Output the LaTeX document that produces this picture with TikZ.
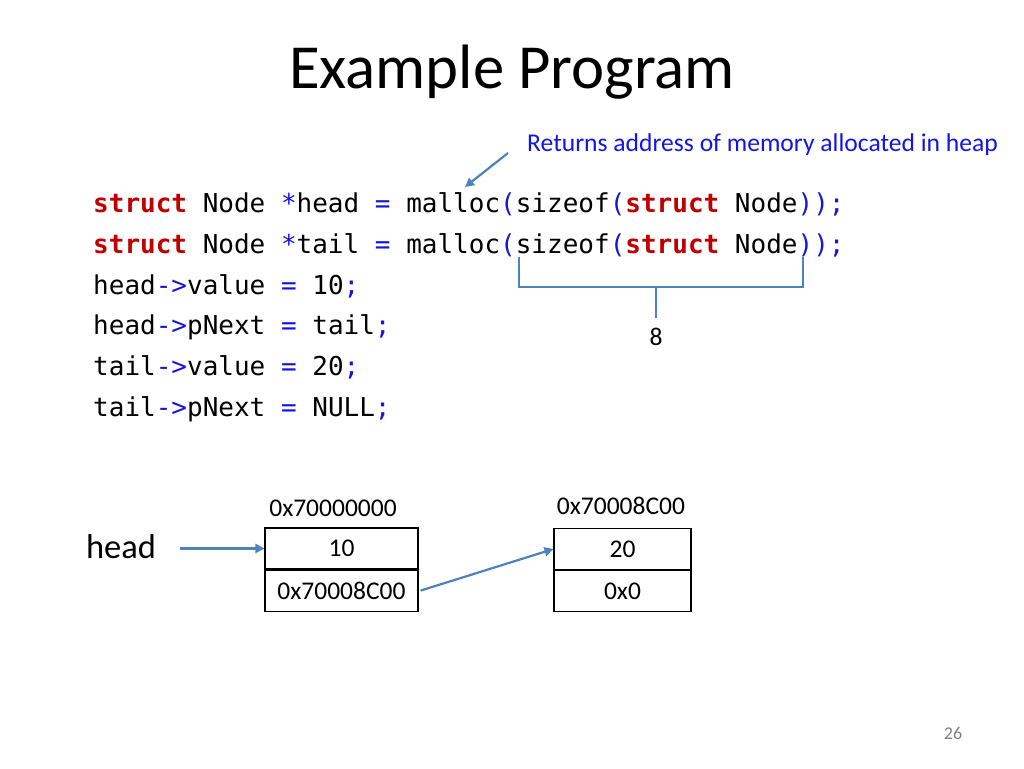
\documentclass[tikz,border=0pt]{standalone}
\usepackage{fontspec}
\setmainfont{Carlito}
\setmonofont{DejaVu Sans Mono}
\usetikzlibrary{arrows.meta}
\definecolor{kw}{RGB}{192,0,0}
\definecolor{pc}{RGB}{20,20,220}
\definecolor{ln}{RGB}{79,129,189}
\definecolor{note}{RGB}{20,20,230}
\newcommand{\K}[1]{\textcolor{kw}{\textbf{#1}}}
\newcommand{\Pc}[1]{\textcolor{pc}{#1}}
\tikzset{
  code/.style={anchor=base west, inner sep=0pt, font=\ttfamily\fontsize{26}{30}\selectfont},
  cell/.style={draw, line width=1.1pt, minimum width=153pt, minimum height=41pt, inner sep=0pt, font=\fontsize{25.5}{28}\selectfont},
  addr/.style={inner sep=0pt, font=\fontsize{25.5}{28}\selectfont},
  conn/.style={ln, line width=2.2pt, -{Triangle[length=9pt,width=9pt]}},
  brk/.style={ln, line width=2.5pt}
}
\begin{document}
\begin{tikzpicture}[x=1pt,y=-1pt]
\useasboundingbox (0,0) rectangle (1024,768);
\node[anchor=base, inner sep=0pt, font=\fontsize{62.7}{70}\selectfont] (title) at (512,88) {Example Program};
\node[anchor=base west, inner sep=0pt, text=note, font=\fontsize{25.6}{28}\selectfont] (note) at (527,151) {Returns address of memory allocated in heap};
\node[code] (l1) at (93,212) {\K{struct} Node \Pc{*}head \Pc{=} malloc\Pc{(}sizeof\Pc{(}\K{struct} Node\Pc{));}};
\node[code] (l2) at (93,253) {\K{struct} Node \Pc{*}tail \Pc{=} malloc\Pc{(}sizeof\Pc{(}\K{struct} Node\Pc{));}};
\node[code] (l3) at (93,294) {head\Pc{->}value \Pc{=} 10\Pc{;}};
\node[code] (l4) at (93,334) {head\Pc{->}pNext \Pc{=} tail\Pc{;}};
\node[code] (l5) at (93,375) {tail\Pc{->}value \Pc{=} 20\Pc{;}};
\node[code] (l6) at (93,416) {tail\Pc{->}pNext \Pc{=} NULL\Pc{;}};
\coordinate (na) at (508,153);
\coordinate (nb) at (465,187);
\draw[conn] (na) -- (nb);
\coordinate (b1) at (519,257);
\coordinate (b2) at (803,257);
\coordinate (bm) at (656,287);
\node[addr] (eight) at (656,337) {8};
\draw[brk] (b1) -- (519,287) -- (803,287) -- (b2);
\draw[brk] (bm) -- ++(0,31);
\node[cell] (c1) at (341.5,548.5) {10};
\node[cell, anchor=north] (c2) at (c1.south) {0x70008C00};
\node[addr] (a1) at (333,508) {0x70000000};
\node[cell, minimum width=137pt] (d1) at (622.5,549) {20};
\node[cell, minimum width=137pt, anchor=north] (d2) at (d1.south) {0x0};
\node[addr] (a2) at (621,506) {0x70008C00};
\node[inner sep=0pt, font=\fontsize{34.5}{38}\selectfont] (head) at (121,547) {head};
\coordinate (hs) at (180,548.5);
\draw[conn] (hs) -- (c1.west);
\draw[conn] (c2.east) ++(2,0) -- (d1.west);
\node[inner sep=0pt, text=gray, font=\fontsize{18}{20}\selectfont] (pg) at (953,733) {26};
\end{tikzpicture}
\end{document}
